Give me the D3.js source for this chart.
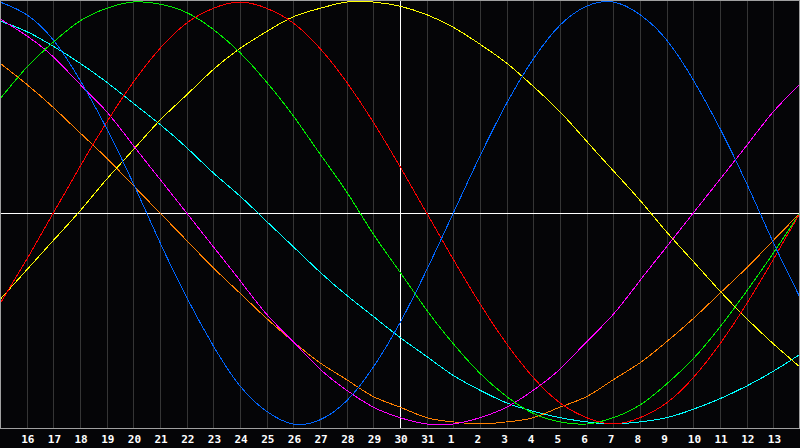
<!DOCTYPE html>
<html><head><meta charset="utf-8">
<script src="https://cdn.jsdelivr.net/npm/d3@7"></script>
<style>
html,body{margin:0;padding:0;background:#000;}
svg{display:block;}
</style></head>
<body>
<script>
// Day labels (grid lines 1..29)
const dayLabels = ["16","17","18","19","20","21","22","23","24","25","26","27","28","29","30","31","1","2","3","4","5","6","7","8","9","10","11","12","13"];
// Daily values (day index 0..30), percent
const physical   = [100,94,82,63,40,14,-14,-40,-63,-82,-94,-100,-98,-89,-73,-52,-27,0,27,52,73,89,98,100,94,82,63,40,14,-14,-40];
const emotional  = [-43,-22,0,22,43,62,78,90,97,100,97,90,78,62,43,22,0,-22,-43,-62,-78,-90,-97,-100,-97,-90,-78,-62,-43,-22,0];
const intellect  = [54,69,81,91,97,100,99,95,87,76,62,46,28,10,-10,-28,-46,-62,-76,-87,-95,-99,-100,-97,-91,-81,-69,-54,-37,-19,0];
const intuitive  = [92,84,74,61,48,32,16,0,-16,-32,-48,-61,-74,-84,-92,-97,-100,-100,-97,-92,-84,-74,-61,-48,-32,-16,0,16,32,48,61];
const aesthetic  = [-41,-27,-13,1,16,30,44,56,68,78,86,93,97,100,100,98,94,88,80,71,60,48,34,20,6,-9,-23,-37,-50,-62,-73];
const awareness  = [71,61,50,38,26,13,0,-13,-26,-38,-50,-61,-71,-79,-87,-92,-97,-99,-100,-99,-97,-92,-87,-79,-71,-61,-50,-38,-26,-13,0];
const spiritual  = [91,86,79,71,62,52,42,31,19,8,-4,-16,-28,-39,-49,-59,-68,-77,-84,-90,-94,-97,-99,-100,-99,-97,-93,-88,-82,-75,-67];

const seriesList = [
  {name:"spiritual", values:spiritual, color:"#00ffff"},
  {name:"awareness", values:awareness, color:"#ff8000"},
  {name:"aesthetic", values:aesthetic, color:"#ffff00"},
  {name:"intuitive", values:intuitive, color:"#ff00ff"},
  {name:"intellect", values:intellect, color:"#00ee00"},
  {name:"emotional", values:emotional, color:"#ff0000"},
  {name:"physical",  values:physical,  color:"#0066ff"}
];

const W = 800, H = 448, plotB = 428;
const svg = d3.select("body").append("svg").attr("width", W).attr("height", H)
  .style("background", "#050507");

const x = d3.scaleLinear().domain([0, 30]).range([0, 800]);
const y = d3.scaleLinear().domain([-100, 100]).range([424, 2]);

// grid lines
svg.append("g").selectAll("line").data(d3.range(1, 30)).join("line")
  .attr("x1", d => Math.round(x(d)) + 0.5).attr("x2", d => Math.round(x(d)) + 0.5)
  .attr("y1", 0).attr("y2", plotB)
  .attr("stroke", d => d === 15 ? "#ffffff" : "#353535").attr("stroke-width", 1)
  .attr("shape-rendering", "crispEdges");

// zero line
svg.append("line").attr("x1", 0).attr("x2", 800)
  .attr("y1", Math.round(y(0)) + 0.5).attr("y2", Math.round(y(0)) + 0.5)
  .attr("stroke", "#ffffff").attr("stroke-width", 1).attr("shape-rendering", "crispEdges");

// curves
const line = d3.line().x((d, i) => x(i)).y(d => y(d)).curve(d3.curveNatural);
svg.append("g").selectAll("path").data(seriesList).join("path")
  .attr("d", s => line(s.values))
  .attr("fill", "none").attr("stroke", s => s.color).attr("stroke-width", 1)
  .attr("shape-rendering", "crispEdges");

// frame
svg.append("rect").attr("x", 0.5).attr("y", 0.5).attr("width", 798.5).attr("height", plotB - 0.5)
  .attr("fill", "none").attr("stroke", "#a0a0a0").attr("stroke-width", 1)
  .attr("shape-rendering", "crispEdges");

// axis labels
const axis = d3.axisBottom(x).tickValues(d3.range(1, 30)).tickFormat(d => dayLabels[d - 1]).tickSize(0).tickPadding(0);
const ag = svg.append("g").attr("transform", `translate(0,${plotB})`).call(axis);
ag.select(".domain").remove();
ag.selectAll("text")
  .attr("text-anchor", "start").attr("dx", -6).attr("y", 15).attr("dy", 0)
  .attr("fill", "#ffffff")
  .style("font-family", "'DejaVu Sans Mono', monospace").style("font-weight", "bold").style("font-size", "11px");
</script>
</body></html>
